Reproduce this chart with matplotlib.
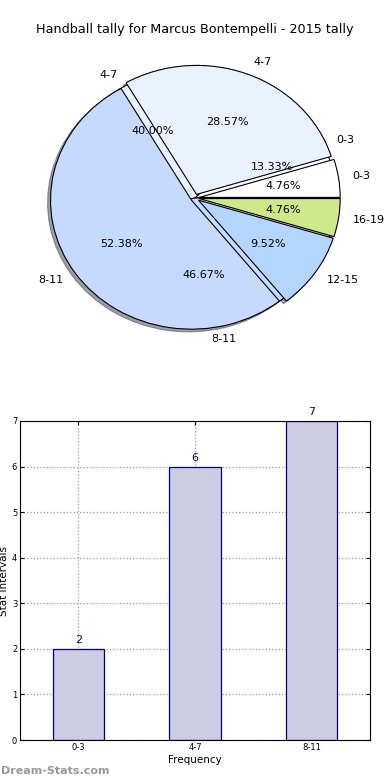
import matplotlib
matplotlib.use("Agg")
import matplotlib.pyplot as plt

title = "Handball tally for Marcus Bontempelli - 2015 tally"

# inner/first pie (same counts as the bar chart)
freq_labels = ["0-3", "4-7", "8-11"]
freq_values = [2, 6, 7]

# second pie
all_labels = ["0-3", "4-7", "8-11", "12-15", "16-19"]
all_values = [1, 6, 11, 2, 1]

palette = {"0-3": "#ffffff", "4-7": "#eaf1ff", "8-11": "#c6d9ff",
           "12-15": "#b4d5ff", "16-19": "#cfe98a"}

fig = plt.figure(figsize=(3.9, 7.8), dpi=100)
W, H = 390.0, 780.0

fig.text(195 / W, 1 - 30 / H, title, ha="center", va="center", fontsize=9.2)

# pie axes: center (195,198), rx 141, ry 129 px
rx, ry = 141, 129
ax1 = fig.add_axes([(195 - 1.25 * rx) / W, 1 - (198 + 1.25 * ry) / H,
                    2.5 * rx / W, 2.5 * ry / H])
ax1.pie(freq_values, labels=freq_labels, autopct="%.2f%%",
        colors=[palette[l] for l in freq_labels],
        wedgeprops={"edgecolor": "black", "linewidth": 0.8},
        textprops={"fontsize": 8})
ax1.pie(all_values, labels=all_labels, autopct="%.2f%%",
        colors=[palette[l] for l in all_labels], explode=[0.03] * len(all_values),
        shadow={"ox": -0.015, "oy": -0.015, "alpha": 0.5},
        wedgeprops={"edgecolor": "black", "linewidth": 0.8},
        textprops={"fontsize": 8})
ax1.set_aspect("auto")
ax1.set_xlim(-1.25, 1.25)
ax1.set_ylim(-1.25, 1.25)

# bar chart
ax2 = fig.add_axes([20 / W, 1 - 740 / H, 350 / W, 319 / H])
xs = range(len(freq_labels))
bars = ax2.bar(xs, freq_values, width=0.44, color="#ccccE5", edgecolor="#000080",
               linewidth=0.9, zorder=2)
for x, v in zip(xs, freq_values):
    ax2.text(x, v + 0.08, str(v), ha="center", va="bottom", color="#000080", fontsize=8)
ax2.set_xlim(-0.5, 2.5)
ax2.set_ylim(0, 7)
ax2.set_xticks(list(xs))
ax2.set_xticklabels(freq_labels, fontsize=6)
ax2.set_yticks(range(0, 8))
ax2.tick_params(axis="y", labelsize=6)
ax2.tick_params(direction="in", top=True, right=True, length=3, pad=2)
ax2.grid(True, linestyle=":", color="#999999", linewidth=0.9, zorder=0)
ax2.set_axisbelow(True)
ax2.set_xlabel("Frequency", fontsize=7.5, labelpad=2)
ax2.set_ylabel("Stat Intervals", fontsize=7.5, labelpad=2)

fig.text(1 / W, 1 - 771 / H, "Dream-Stats.com", color="#999999", fontsize=8,
         fontweight="bold", ha="left", va="center")

fig.savefig("out.png", dpi=100)
